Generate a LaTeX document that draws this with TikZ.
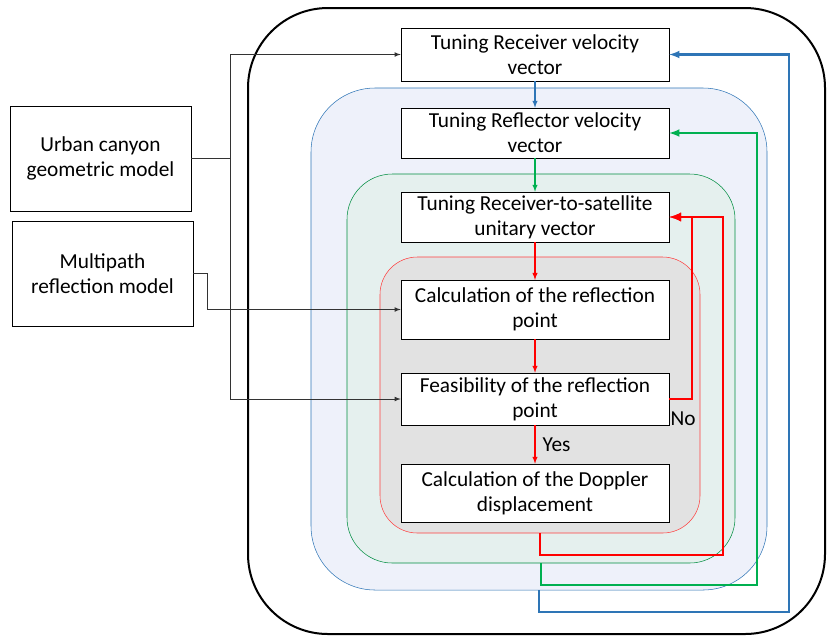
\documentclass[tikz,border=0pt]{standalone}
\usepackage{fontspec}
\setmainfont{Carlito}
\usepackage{xcolor}
\usetikzlibrary{shapes,arrows,positioning,calc}

\definecolor{loopblue}{HTML}{2E75B6}
\definecolor{loopgreen}{HTML}{00B050}
\definecolor{loopred}{HTML}{FF0000}
\definecolor{bluefill}{HTML}{EEF1FA}
\definecolor{greenfill}{HTML}{E5F0EE}
\definecolor{redfill}{HTML}{E2E2E2}

\begin{document}
\begin{tikzpicture}[x=0.75pt,y=-0.75pt,>=latex,font=\fontsize{16}{18.75}\selectfont,
  stepbox/.style={draw,fill=white,minimum width=201pt,align=center,inner sep=1pt},
  modelbox/.style={draw,fill=white,minimum width=136pt,minimum height=79pt,align=center},
  link/.style={draw=black!80,line width=0.6pt},
  feedback/.style={->,line width=1.6pt}]
  \useasboundingbox (0,0) rectangle (827,637);

  % nested loops
  \node[draw,line width=1.5pt,rounded corners=60pt,minimum width=432.75pt,minimum height=469.5pt] (outer) at (536.5,321) {};
  \node[draw=loopblue,fill=bluefill,rounded corners=48pt,minimum width=342pt,minimum height=376.5pt] (blueloop) at (539,339) {};
  \node[draw=loopgreen!80!black,fill=greenfill,rounded corners=34pt,minimum width=291pt,minimum height=291.75pt] (greenloop) at (541,368.5) {};
  \node[draw=loopred!75,fill=redfill,rounded corners=28pt,minimum width=240pt,minimum height=207pt] (redloop) at (540,395) {};

  % steps
  \node[stepbox,minimum height=39.75pt] (b1) at (535,54.5) {Tuning Receiver velocity\\vector};
  \node[stepbox,minimum height=37.5pt] (b2) at (535,133) {Tuning Reflector velocity\\vector};
  \node[stepbox,minimum height=37.5pt] (b3) at (535,217) {Tuning Receiver-to-satellite\\unitary vector};
  \node[stepbox,minimum height=44pt] (b4) at (535,309.5) {Calculation of the reflection\\point};
  \node[stepbox,minimum height=39pt] (b5) at (535,399) {Feasibility of the reflection\\point};
  \node[stepbox,minimum height=43.5pt] (b6) at (535,493) {Calculation of the Doppler\\displacement};

  % models
  \node[modelbox] (urban) at (100.5,158.5) {Urban canyon\\geometric model};
  \node[modelbox] (multi) at (102.5,273.5) {Multipath\\reflection model};

  \coordinate (trunk) at (230,0);
  \coordinate (bend) at (207,0);
  \draw[link] (urban.east) -- (urban.east -| trunk);
  \draw[link] (trunk |- b1.west) -- (trunk |- b5.west);
  \draw[link,->] (trunk |- b1.west) -- (b1.west);
  \draw[link,->] (trunk |- b5.west) -- (b5.west);
  \draw[link,->] (multi.east) -| (bend |- b4.west) -- (b4.west);

  % forward arrows
  \draw[->,loopblue,line width=0.8pt] (b1) -- (b2);
  \draw[->,loopgreen,line width=0.8pt] (b2) -- (b3);
  \draw[->,loopred,line width=0.8pt] (b3) -- (b4);
  \draw[->,loopred,line width=0.8pt] (b4) -- (b5);
  \draw[->,loopred,line width=0.8pt] (b5) -- (b6) node[midway,right,xshift=2pt,text=black] {Yes};

  % feedback loops
  \coordinate (redcorner) at (723,555);
  \coordinate (greencorner) at (757,585);
  \coordinate (bluecorner) at (789,612);
  \coordinate (nox) at (692,0);
  \draw[feedback,loopred,line width=2pt] (b5.east) -| (nox |- b3.east) -- (b3.east);
  \draw[feedback,loopred,line width=2pt] (redloop.south) |- (redcorner) |- (b3.east);
  \draw[feedback,loopgreen] (greenloop.south) |- (greencorner) |- (b2.east);
  \draw[feedback,loopblue] (blueloop.south) |- (bluecorner) |- (b1.east);

  \node[anchor=west,inner sep=0pt] (nolabel) at ($(b5.south east)+(1,-7)$) {No};
\end{tikzpicture}
\end{document}
